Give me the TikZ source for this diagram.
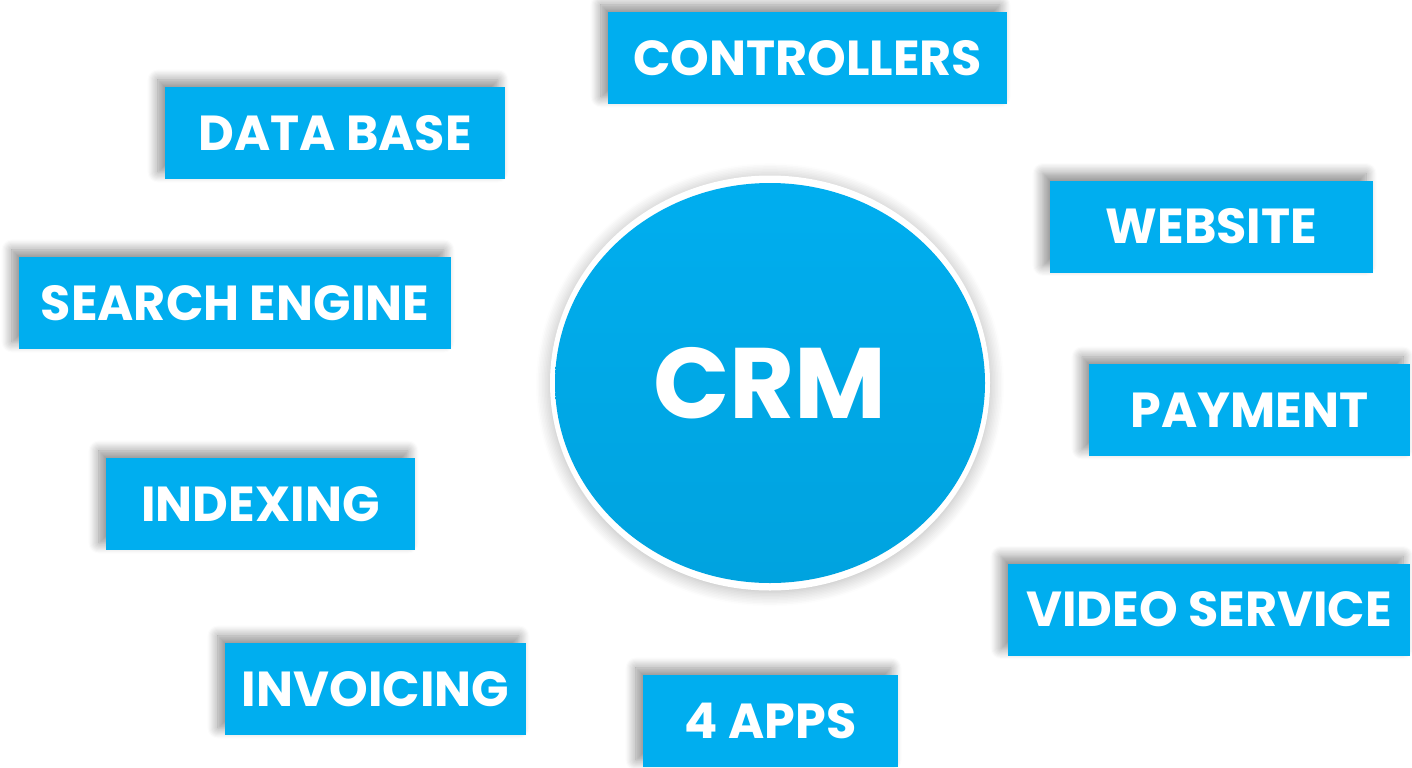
\documentclass[tikz,border=0pt]{standalone}
\usepackage{fontspec}
\setsansfont{Poppins}[BoldFont={Poppins Bold}]
\usetikzlibrary{shapes.geometric, shadows.blur}
\definecolor{crmblue}{HTML}{00AEEF}
\definecolor{crmdeep}{HTML}{00A8E6}
\tikzset{tag/.style = {fill = crmblue, text = white, inner sep = 0pt,
    minimum height = 0.92cm, font = \sffamily\bfseries\fontsize{14}{14}\selectfont,
    blur shadow = {shadow xshift = -2pt, shadow yshift = 2pt, shadow blur radius = 3pt,
      shadow blur steps = 10, shadow opacity = 45}}}
\tikzset{hub/.style = {ellipse, inner sep = 0pt}}

\begin{document}
\begin{tikzpicture}
\useasboundingbox (0,0) rectangle (14.12,7.67);
% centre
\node[hub, fill = white, minimum width = 4.40cm, minimum height = 4.15cm,
  blur shadow = {shadow xshift = 0pt, shadow yshift = -0.5pt, shadow blur radius = 4pt,
    shadow blur steps = 10, shadow opacity = 30}] (ring) at (7.70,3.84) {};
\node[hub, top color = crmblue, bottom color = crmdeep!97!black, middle color = crmdeep,
  minimum width = 4.30cm, minimum height = 4.00cm, text = white,
  font = \sffamily\bfseries\fontsize{28.5}{28.5}\selectfont] (crm) at (ring) {CRM};
% tags
\node[tag, minimum width = 3.99cm] (ctrl) at (8.075,7.09) {CONTROLLERS};
\node[tag, minimum width = 3.40cm] (db) at (3.35,6.34) {DATA BASE};
\node[tag, minimum width = 3.23cm] (web) at (12.115,5.405) {WEBSITE};
\node[tag, minimum width = 4.32cm] (search) at (2.35,4.64) {SEARCH ENGINE};
\node[tag, minimum width = 3.21cm] (pay) at (12.495,3.57) {PAYMENT};
\node[tag, minimum width = 3.09cm] (index) at (2.605,2.63) {INDEXING};
\node[tag, minimum width = 4.02cm] (video) at (12.09,1.575) {VIDEO SERVICE};
\node[tag, minimum width = 3.01cm] (invoice) at (3.755,0.78) {INVOICING};
\node[tag, minimum width = 2.55cm] (apps) at (7.705,0.46) {4 APPS};
\end{tikzpicture}
\end{document}
